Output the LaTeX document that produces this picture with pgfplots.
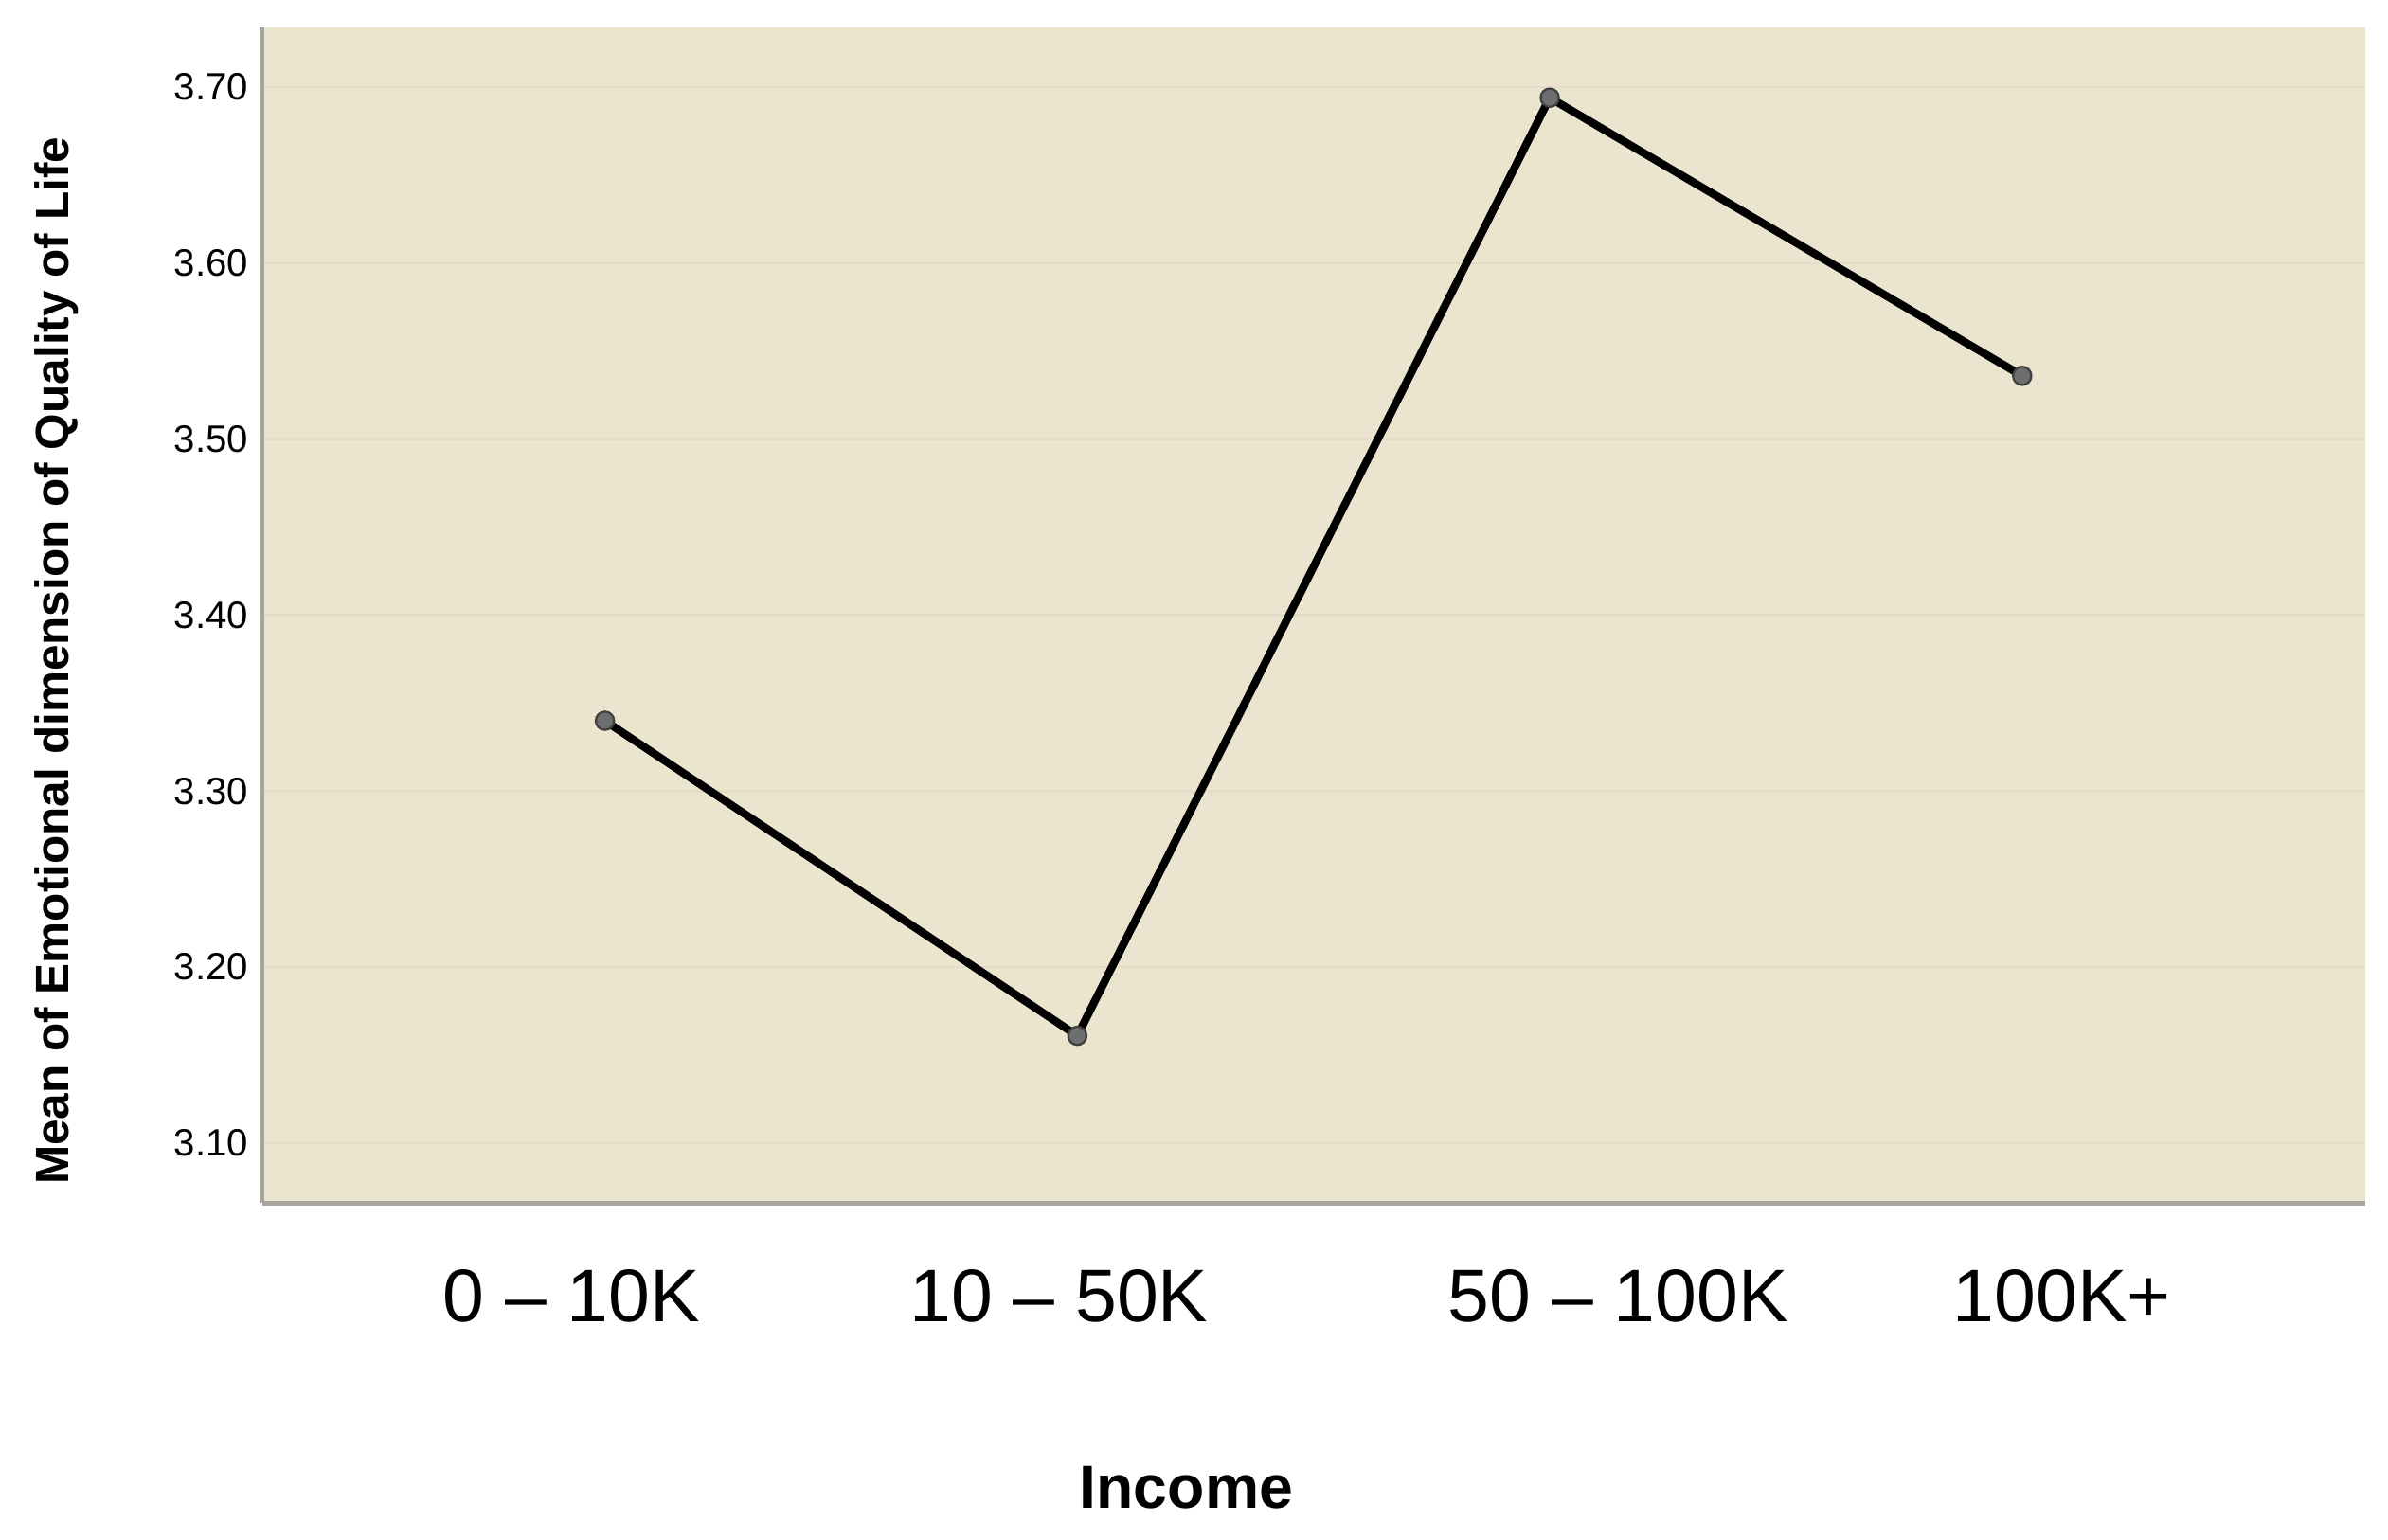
\documentclass[border=0pt]{standalone}
\usepackage{fontspec}
\setmainfont{Liberation Sans}
\usepackage{pgfplots}
\pgfplotsset{compat=1.18}
\definecolor{bgc}{RGB}{235,228,207}
\definecolor{gridc}{RGB}{228,220,198}
\definecolor{axc}{RGB}{168,165,154}
\definecolor{mkc}{RGB}{110,110,110}
\begin{document}
\begin{tikzpicture}
\begin{axis}[
  width=690.5pt, height=386pt, scale only axis,
  xmin=-0.726, xmax=3.726,
  ymin=3.066, ymax=3.734,
  axis x line*=bottom, axis y line*=left,
  axis line style={axc, line width=1.6pt, -},
  axis background/.style={fill=bgc},
  ytick={3.10,3.20,3.30,3.40,3.50,3.60,3.70},
  yticklabel style={/pgf/number format/fixed, /pgf/number format/fixed zerofill, /pgf/number format/precision=2, /pgf/number format/assume math mode=true, font=\fontsize{12.5}{14}\selectfont, xshift=-1pt},
  scaled y ticks=false,
  ymajorgrids, grid style={gridc, line width=0.8pt},
  major tick length=0pt,
  xtick={-0.071,0.961,2.145,3.084},
  xticklabels={0 -- 10K, 10 -- 50K, 50 -- 100K, 100K+},
  xticklabel style={anchor=center, yshift=-30.5pt, font=\fontsize{24.5}{28}\selectfont},
  xlabel={Income},
  xlabel style={at={(axis description cs:0.4395,-0.2422)}, anchor=center, font=\bfseries\fontsize{20}{24}\selectfont},
  ylabel={Mean of Emotional dimension of Quality of Life},
  ylabel style={at={(axis description cs:-0.0978,0.461)}, anchor=center, rotate=0, font=\bfseries\fontsize{15.4}{18}\selectfont},
  clip=false,
]
\addplot[black, line width=2.6pt, mark=*, mark size=3pt, mark options={fill=mkc, draw=black!75, line width=0.7pt}]
  coordinates {(0,3.340) (1,3.161) (2,3.694) (3,3.536)};
\end{axis}
\pgfresetboundingbox
\path (current axis.south west) ++(-86pt,-110.5pt) rectangle ++(784pt,505.5pt);
\end{tikzpicture}
\end{document}
